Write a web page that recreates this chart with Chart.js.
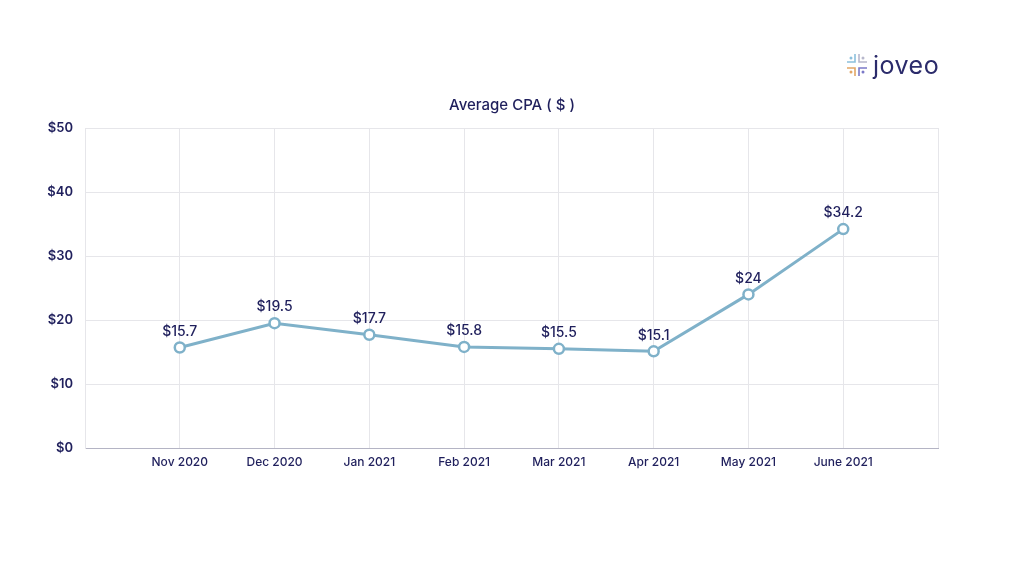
<!DOCTYPE html>
<html>
<head>
<meta charset="utf-8">
<script src="https://cdn.jsdelivr.net/npm/chart.js@4"></script>
<style>
    html, body { margin: 0; padding: 0; background: #fff; }
    #wrap { position: relative; width: 1024px; height: 576px; }
    #chart { position: absolute; left: 0; top: 0; }
    .logo { position: absolute; left: 845px; top: 50px; display: flex; align-items: center; }
    .logo span { font-family: Inter, sans-serif; font-size: 25px; color: #2b2b6b; margin-left: 4px; letter-spacing: 0.5px; }
</style>
</head>
<body>
<div id="wrap">
    <canvas id="chart" width="1024" height="576"></canvas>
    <div class="logo">
        <svg width="24" height="26" viewBox="0 0 24 26">
            <!-- top-left, light blue -->
            <path d="M10 2 V10 H2" fill="none" stroke="#8cc0dc" stroke-width="1.6"/>
            <circle cx="6" cy="6" r="1.5" fill="#8cc0dc"/>
            <!-- top-right, grey -->
            <path d="M14 2 V10 H22" fill="none" stroke="#b8b8cc" stroke-width="1.6"/>
            <circle cx="18" cy="6" r="1.5" fill="#b8b8cc"/>
            <!-- bottom-left, orange -->
            <path d="M10 24 V16 H2" fill="none" stroke="#e2a766" stroke-width="1.6"/>
            <circle cx="6" cy="20" r="1.5" fill="#e2a766"/>
            <!-- bottom-right, purple -->
            <path d="M14 24 V16 H22" fill="none" stroke="#7b79c8" stroke-width="1.6"/>
            <circle cx="18" cy="20" r="1.5" fill="#7b79c8"/>
        </svg>
        <span>joveo</span>
    </div>
</div>
<script>
// Chart data
const chartTitle = 'Average CPA ( $ )';
const months = ['', 'Nov 2020', 'Dec 2020', 'Jan 2021', 'Feb 2021', 'Mar 2021', 'Apr 2021', 'May 2021', 'June 2021', ''];
const avgCpa = [null, 15.7, 19.5, 17.7, 15.8, 15.5, 15.1, 24, 34.2, null];
const yTicks = [0, 10, 20, 30, 40, 50];

const textColor = '#1f1f5c';
const lineColor = '#7fb1c9';
const gridColor = '#e6e6ea';

// Draws value labels above each point and the title centred on the page
const pointLabels = {
    id: 'pointLabels',
    afterDatasetsDraw(chart) {
        const ctx = chart.ctx;
        const meta = chart.getDatasetMeta(0);
        ctx.save();
        ctx.font = '500 14px Inter, sans-serif';
        ctx.fillStyle = textColor;
        ctx.textAlign = 'center';
        ctx.textBaseline = 'middle';
        meta.data.forEach((pt, i) => {
            const v = avgCpa[i];
            if (v === null) return;
            ctx.fillText('$' + v, pt.x, pt.y - 16);
        });

        ctx.font = '500 15px Inter, sans-serif';
        ctx.fillText(chartTitle, chart.width / 2, 105);
        ctx.restore();
    }
};

new Chart(document.getElementById('chart').getContext('2d'), {
    type: 'line',
    data: {
        labels: months,
        datasets: [{
            label: chartTitle,
            data: avgCpa,
            borderColor: lineColor,
            borderWidth: 3,
            pointRadius: 5,
            pointBorderWidth: 2.5,
            pointBackgroundColor: '#ffffff',
            pointBorderColor: lineColor,
            tension: 0
        }]
    },
    options: {
        responsive: false,
        animation: false,
        layout: {
            padding: { top: 128, right: 86, bottom: 98, left: 0 }
        },
        plugins: {
            legend: { display: false },
            tooltip: { enabled: false },
            title: { display: false }
        },
        scales: {
            x: {
                offset: false,
                grid: { color: gridColor, drawTicks: false },
                border: { color: '#b4b4c4', width: 1 },
                ticks: {
                    color: textColor,
                    font: { family: 'Inter, sans-serif', size: 12, weight: '500' },
                    padding: 7,
                    autoSkip: false,
                    maxRotation: 0
                },
                afterFit(scale) { scale.height = 30; }
            },
            y: {
                min: 0,
                max: 50,
                afterBuildTicks(scale) { scale.ticks = yTicks.map(v => ({ value: v })); },
                grid: { color: gridColor, drawTicks: false },
                border: { color: gridColor },
                ticks: {
                    color: textColor,
                    font: { family: 'Inter, sans-serif', size: 13, weight: '600' },
                    padding: 12,
                    callback: v => '$' + v
                },
                afterFit(scale) { scale.width = 85; }
            }
        }
    },
    plugins: [pointLabels]
});
</script>
</body>
</html>
